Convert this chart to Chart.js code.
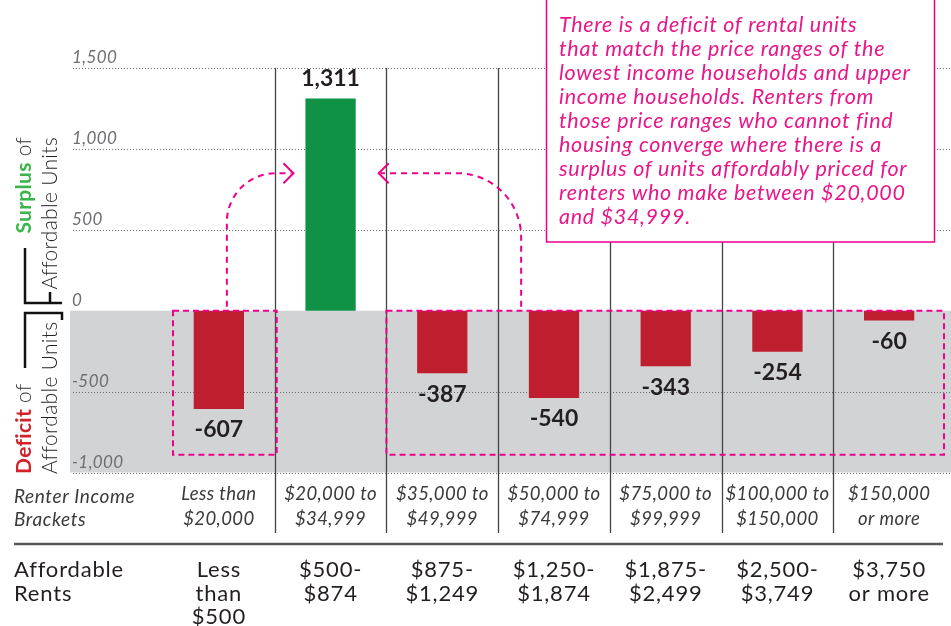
<!DOCTYPE html>
<html>
<head>
<meta charset="utf-8">
<script src="https://cdn.jsdelivr.net/npm/chart.js@4.4.1/dist/chart.umd.min.js"></script>
<style>
  body { margin: 0; background: #fff; }
  #wrap { width: 951px; height: 626px; }
</style>
</head>
<body>
<div id="wrap"><canvas id="rentChart" width="951" height="626"></canvas></div>
<script>
let incomeBrackets = [
  ["Less than", "$20,000"],
  ["$20,000 to", "$34,999"],
  ["$35,000 to", "$49,999"],
  ["$50,000 to", "$74,999"],
  ["$75,000 to", "$99,999"],
  ["$100,000 to", "$150,000"],
  ["$150,000", "or more"]
];
let unitBalance = [-607, 1311, -387, -540, -343, -254, -60];
let affordableRents = [
  ["Less", "than", "$500"],
  ["$500-", "$874"],
  ["$875-", "$1,249"],
  ["$1,250-", "$1,874"],
  ["$1,875-", "$2,499"],
  ["$2,500-", "$3,749"],
  ["$3,750", "or more"]
];
let yTicks = [-1000, -500, 0, 500, 1000, 1500];
let noteLines = [
  "There is a deficit of rental units",
  "that match the price ranges of the",
  "lowest income households and upper",
  "income households. Renters from",
  "those price ranges who cannot find",
  "housing converge where there is a",
  "surplus of units affordably priced for",
  "renters who make between $20,000",
  "and $34,999."
];

const PINK = "#ec008c";
const INK = "#231f20";
const barColors = unitBalance.map(v => v >= 0 ? "#0f9246" : "#be1e2d");

function fmt(v) { return v.toLocaleString("en-US"); }

// midpoint between two neighbouring categories
function divider(xs, i) {
  return (xs.getPixelForValue(i - 1) + xs.getPixelForValue(i)) / 2;
}

function dashedArrow(ctx, x0, y0, yA, r, tip) {
  let dir = tip > x0 ? 1 : -1;
  ctx.save();
  ctx.strokeStyle = PINK;
  ctx.lineWidth = 2;
  ctx.setLineDash([6, 5]);
  ctx.beginPath();
  ctx.moveTo(x0, y0);
  ctx.lineTo(x0, yA + r);
  ctx.arcTo(x0, yA, x0 + dir * r, yA, r);
  ctx.lineTo(tip - dir * 2, yA);
  ctx.stroke();
  ctx.setLineDash([]);
  ctx.beginPath();
  ctx.moveTo(tip - dir * 10, yA - 10);
  ctx.lineTo(tip, yA);
  ctx.lineTo(tip - dir * 10, yA + 10);
  ctx.stroke();
  ctx.restore();
}

const backdrop = {
  id: "backdrop",
  beforeDraw(chart) {
    let ctx = chart.ctx, ys = chart.scales.y;
    let W = chart.width;
    // a little extra tracking for the axis labels
    ctx.letterSpacing = "0.4px";
    ctx.save();
    ctx.fillStyle = "#d1d3d4";
    let top = ys.getPixelForValue(0), bot = ys.getPixelForValue(-1000);
    ctx.fillRect(70, top, W - 70, bot - top);
    ctx.strokeStyle = "#6d6e71";
    ctx.lineWidth = 1;
    ctx.setLineDash([1, 2]);
    yTicks.forEach(v => {
      if (v === 0) return;
      let y = Math.round(ys.getPixelForValue(v)) + 0.5;
      ctx.beginPath();
      ctx.moveTo(73, y);
      ctx.lineTo(W, y);
      ctx.stroke();
    });
    ctx.restore();
  },
  beforeDatasetsDraw(chart) {
    let ctx = chart.ctx, xs = chart.scales.x, ys = chart.scales.y;
    ctx.save();
    ctx.strokeStyle = "#444";
    ctx.lineWidth = 1.3;
    for (let i = 1; i < unitBalance.length; i++) {
      let x = Math.round(divider(xs, i)) + 0.5;
      ctx.beginPath();
      ctx.moveTo(x, ys.getPixelForValue(1500));
      ctx.lineTo(x, 533);
      ctx.stroke();
    }
    ctx.restore();
  }
};

const annotations = {
  id: "annotations",
  afterDatasetsDraw(chart) {
    let ctx = chart.ctx, xs = chart.scales.x, ys = chart.scales.y;
    let meta = chart.getDatasetMeta(0);

    // value labels
    ctx.save();
    ctx.letterSpacing = "0px";
    ctx.fillStyle = INK;
    ctx.font = "bold 23px Lato";
    ctx.textAlign = "center";
    ctx.textBaseline = "middle";
    meta.data.forEach((bar, i) => {
      let v = unitBalance[i];
      ctx.fillText(fmt(v), bar.x, v >= 0 ? bar.y - 20 : bar.y + 21);
    });
    ctx.restore();

    // dashed groupings of the deficit brackets
    let y0 = ys.getPixelForValue(0), yB = ys.getPixelForValue(-890);
    let catW = xs.getPixelForValue(1) - xs.getPixelForValue(0);
    let b1l = xs.getPixelForValue(0) - catW / 2 + 10, b1r = divider(xs, 1) + 2;
    let b2l = divider(xs, 2), b2r = xs.right - 1;
    ctx.save();
    ctx.strokeStyle = PINK;
    ctx.lineWidth = 2;
    ctx.setLineDash([6, 4]);
    ctx.strokeRect(b1l, y0, b1r - b1l, yB - y0);
    ctx.strokeRect(b2l, y0, b2r - b2l, yB - y0);
    ctx.restore();

    // arrows pointing at the surplus bracket
    let yA = ys.getPixelForValue(850);
    let green = meta.data[1];
    dashedArrow(ctx, xs.getPixelForValue(0) + 8, y0 - 4, yA, 49, green.x - green.width / 2 - 12);
    dashedArrow(ctx, divider(xs, 3) + 23, y0 - 4, yA, 64, green.x + green.width / 2 + 23);

    // note box
    ctx.save();
    ctx.fillStyle = "#fff";
    ctx.fillRect(546, -5, 388, 247);
    ctx.strokeStyle = PINK;
    ctx.lineWidth = 1.5;
    ctx.strokeRect(546.5, -5, 388, 247);
    ctx.fillStyle = "#e8178a";
    ctx.font = "italic 21.5px Lato";
    ctx.letterSpacing = "0.7px";
    ctx.textBaseline = "middle";
    noteLines.forEach((t, i) => ctx.fillText(t, 559, 25 + i * 24));
    ctx.restore();

    // side titles with brackets
    ctx.save();
    ctx.letterSpacing = "0.3px";
    ctx.textBaseline = "alphabetic";
    ctx.translate(31, 137);
    ctx.rotate(-Math.PI / 2);
    ctx.textAlign = "right";
    ctx.font = "300 21px Lato";
    ctx.fillStyle = "#333";
    let ofW = ctx.measureText(" of").width;
    ctx.fillText(" of", 0, 0);
    ctx.font = "bold 21px Lato";
    ctx.fillStyle = "#39b54a";
    ctx.fillText("Surplus", -ofW, 0);
    ctx.font = "300 21px Lato";
    ctx.fillStyle = INK;
    ctx.fillText("Affordable Units", 0, 26);
    ctx.restore();

    ctx.save();
    ctx.letterSpacing = "0.3px";
    ctx.textBaseline = "alphabetic";
    ctx.translate(31, 474);
    ctx.rotate(-Math.PI / 2);
    ctx.textAlign = "left";
    ctx.font = "bold 21px Lato";
    ctx.fillStyle = "#d2232a";
    let dW = ctx.measureText("Deficit").width;
    ctx.fillText("Deficit", 0, 0);
    ctx.font = "300 21px Lato";
    ctx.fillStyle = "#333";
    ctx.fillText(" of", dW, 0);
    ctx.fillStyle = INK;
    ctx.fillText("Affordable Units", 0, 26);
    ctx.restore();

    ctx.save();
    ctx.strokeStyle = "#111";
    ctx.lineWidth = 2.5;
    ctx.beginPath();
    ctx.moveTo(25, 248); ctx.lineTo(25, 303); ctx.lineTo(62, 303);
    ctx.moveTo(50, 292); ctx.lineTo(50, 303);
    ctx.moveTo(62, 320); ctx.lineTo(62, 313); ctx.lineTo(25, 313); ctx.lineTo(25, 368);
    ctx.stroke();
    ctx.restore();

    // bracket caption and affordable rents row
    ctx.save();
    ctx.fillStyle = "#3a3a3a";
    ctx.font = "italic 19px Lato";
    ctx.letterSpacing = "0.6px";
    ctx.textBaseline = "middle";
    ctx.fillText("Renter Income", 14, 497);
    ctx.fillText("Brackets", 14, 520);

    ctx.strokeStyle = "#58595b";
    ctx.lineWidth = 2.5;
    ctx.beginPath();
    ctx.moveTo(14, 544);
    ctx.lineTo(943, 544);
    ctx.stroke();

    ctx.fillStyle = INK;
    ctx.font = "22px Lato";
    ctx.letterSpacing = "0.8px";
    ctx.fillText("Affordable", 14, 570);
    ctx.fillText("Rents", 14, 594);
    ctx.textAlign = "center";
    affordableRents.forEach((lines, i) => {
      let x = xs.getPixelForValue(i);
      lines.forEach((t, j) => ctx.fillText(t, x, 570 + j * 23.5));
    });
    ctx.restore();
  }
};

let rentChart = new Chart("rentChart", {
  type: "bar",
  data: {
    labels: incomeBrackets,
    datasets: [{
      data: unitBalance,
      backgroundColor: barColors,
      barPercentage: 0.45,
      categoryPercentage: 1.0
    }]
  },
  options: {
    responsive: false,
    animation: false,
    layout: { padding: { left: 72, top: 68, right: 6, bottom: 91.5 } },
    plugins: {
      legend: { display: false },
      tooltip: { enabled: false }
    },
    scales: {
      x: {
        offset: true,
        grid: { display: false, drawTicks: false },
        border: { display: false },
        afterFit: s => { s.height = 62; },
        ticks: {
          color: "#3a3a3a",
          font: { family: "Lato", style: "italic", size: 18.5, lineHeight: 1.3 },
          padding: 10,
          maxRotation: 0,
          autoSkip: false
        }
      },
      y: {
        min: -1000,
        max: 1500,
        afterBuildTicks: s => { s.ticks = yTicks.map(v => ({ value: v })); },
        afterFit: s => { s.width = 91; },
        grid: { display: false, drawTicks: false },
        border: { display: false },
        ticks: {
          crossAlign: "far",
          labelOffset: -10,
          padding: 0,
          color: "#6d6e71",
          font: { family: "Lato", style: "italic", size: 17 },
          callback: v => fmt(v)
        }
      }
    }
  },
  plugins: [backdrop, annotations]
});
</script>
</body>
</html>
